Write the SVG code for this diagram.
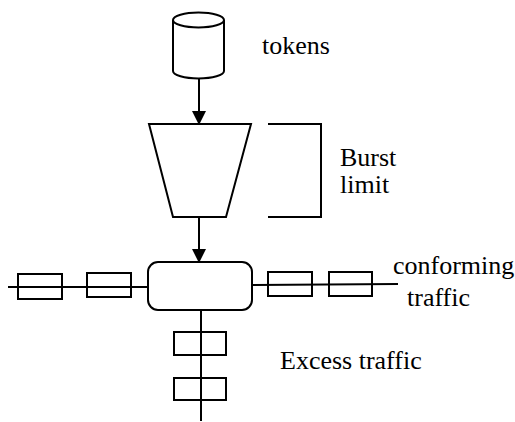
<svg xmlns="http://www.w3.org/2000/svg" width="515" height="422" viewBox="0 0 515 422">
<defs>
<marker id="ah" markerWidth="14" markerHeight="16" refX="13" refY="7" orient="auto" markerUnits="userSpaceOnUse">
<path d="M0,0 L14,7 L0,14 Z" fill="#000"/>
</marker>
<style>
.s{fill:#fff;stroke:#000;stroke-width:2}
.l{fill:none;stroke:#000;stroke-width:2}
text{font-family:"Liberation Serif","Times New Roman",serif;font-size:26px;fill:#000}
</style>
</defs>
<rect width="515" height="422" fill="#fff"/>
<g id="connectors">
<line class="l" x1="199" y1="78" x2="199" y2="124" marker-end="url(#ah)"/>
<line class="l" x1="199" y1="217" x2="199" y2="262" marker-end="url(#ah)"/>
<line class="l" x1="8" y1="287" x2="148" y2="287"/>
<line class="l" x1="252" y1="285" x2="398" y2="284"/>
<line class="l" x1="201" y1="310" x2="201" y2="421"/>
</g>
<g id="tokens">
<path class="s" d="M173,20 L173,71 A25.5,7.5 0 0 0 224,71 L224,20"/>
<ellipse class="s" cx="198.5" cy="20" rx="25.5" ry="7.5"/>
<text x="262" y="54">tokens</text>
</g>
<g id="bucket">
<polygon class="s" points="149,124 251,124 226,217 173,217"/>
</g>
<g id="burst-limit">
<polyline class="l" points="268,124 321,124 321,217 268,217"/>
<text x="340" y="166">Burst</text>
<text x="340" y="193">limit</text>
</g>
<g id="shaper">
<rect class="s" x="148" y="262" width="104" height="48" rx="10" ry="10"/>
</g>
<g id="input-queue">
<rect class="l" x="18" y="274" width="44" height="25"/>
<rect class="l" x="87" y="273" width="44" height="24"/>
</g>
<g id="conforming">
<rect class="l" x="268" y="272" width="44" height="24"/>
<rect class="l" x="329" y="272" width="43" height="24"/>
<text x="393" y="274">conforming</text>
<text x="407" y="306">traffic</text>
</g>
<g id="excess">
<rect class="l" x="174" y="332" width="52" height="23"/>
<rect class="l" x="174" y="378" width="52" height="22"/>
<text x="280" y="369">Excess traffic</text>
</g>
</svg>
